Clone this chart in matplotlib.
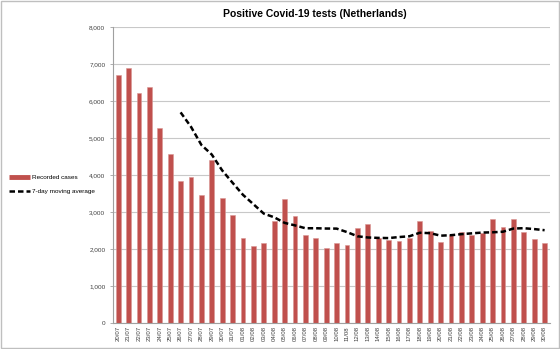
import matplotlib.pyplot as plt
from matplotlib.patches import Rectangle
from matplotlib.lines import Line2D
from matplotlib.ticker import FuncFormatter

# daily dates 20/07 .. 30/08
dates = [f"{d:02d}/07" for d in range(20, 32)] + [f"{d:02d}/08" for d in range(1, 31)]

cases = [6700, 6890, 6230, 6390, 5270, 4575, 3856, 3964, 3459, 4415,
         3387, 2928, 2297, 2090, 2180, 2766, 3360, 2910, 2387, 2297,
         2036, 2162, 2108, 2568, 2685, 2306, 2261, 2234, 2306, 2775,
         2495, 2207, 2396, 2459, 2387, 2450, 2829, 2604, 2811, 2459,
         2288, 2180]

# 7-day average, first value on 26/07
avg_start = 6
avg = [5702, 5311, 4821, 4561, 4132, 3798, 3472, 3220, 2965, 2866,
       2715, 2647, 2570, 2570, 2562, 2560, 2466, 2353, 2320, 2309,
       2304, 2332, 2353, 2448, 2437, 2369, 2382, 2410, 2432, 2453,
       2460, 2476, 2562, 2571, 2547, 2517]

plt.rcParams['font.family'] = ['Liberation Sans', 'DejaVu Sans']

bar_color = '#C0504D'
dash = (0, (2.2, 1.2))

fig = plt.figure(figsize=(5.6, 3.49), dpi=100)
ax = fig.add_axes([0.2018, 0.0736, 0.780, 0.848])

x = list(range(len(dates)))
ax.bar(x, cases, width=0.45, color=bar_color, edgecolor='#D99694', linewidth=0.4, zorder=2)
ax.plot(x[avg_start:], avg, color='black', linestyle=dash, linewidth=1.8, zorder=3)

ax.set_xlim(-0.5, len(dates) - 0.5)
ax.set_ylim(0, 8000)
ax.set_yticks(range(0, 8001, 1000))
ax.yaxis.set_major_formatter(FuncFormatter(lambda v, p: f"{int(v):,}"))
ax.set_xticks(x)
ax.set_xticklabels(dates, rotation=90, fontsize=4.3, color='#404040')
ax.tick_params(axis='y', labelsize=4.6, labelcolor='#404040', length=2.5, width=0.6,
               color='#A0A0A0', pad=3)
ax.tick_params(axis='x', length=0, pad=2)

ax.grid(axis='y', color='#C8C8C8', linewidth=0.8, zorder=0)
for s in ['top', 'right']:
    ax.spines[s].set_visible(False)
for s in ['left', 'bottom']:
    ax.spines[s].set_color('#A0A0A0')
    ax.spines[s].set_linewidth(0.8)

fig.text(0.563, 0.96, 'Positive Covid-19 tests (Netherlands)', ha='center', va='center',
         fontsize=7.5, fontweight='bold')

handles = [Line2D([], [], color=bar_color, linewidth=3.5, solid_capstyle='butt'),
           Line2D([], [], color='black', linestyle=dash, linewidth=1.8)]
labels = ['Recorded cases', '7-day moving average']
fig.legend(handles, labels, loc='upper left', bbox_to_anchor=(0.005, 0.515), frameon=False,
           fontsize=4.6, handlelength=3.4, handletextpad=0.3, labelspacing=1.3)

fig.patches.append(Rectangle((0.001, 0.002), 0.997, 0.995, transform=fig.transFigure,
                             fill=False, edgecolor='#BFBFBF', linewidth=1.0))

fig.savefig('out.png', dpi=100)
